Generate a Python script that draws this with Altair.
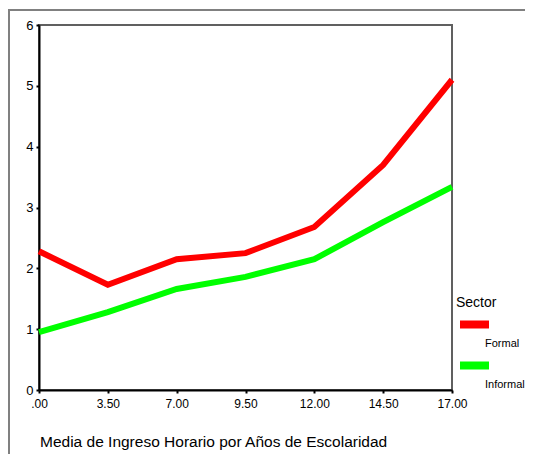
import altair as alt
import pandas as pd

years = [".00", "3.50", "7.00", "9.50", "12.00", "14.50", "17.00"]
formal = [2.28, 1.73, 2.15, 2.25, 2.68, 3.70, 5.10]
informal = [0.95, 1.28, 1.66, 1.86, 2.15, 2.76, 3.34]
sectors = ["Formal", "Informal"]
colors = ["#ff0000", "#00ff00"]
title_text = "Media de Ingreso Horario por Años de Escolaridad"

rows = []
for s, vals in zip(sectors, [formal, informal]):
    for y, v in zip(years, vals):
        rows.append({"Años": y, "Ingreso": v, "Sector": s})
df = pd.DataFrame(rows)

FONT = "Liberation Sans"

lines = alt.Chart(df).mark_line(strokeWidth=6).encode(
    x=alt.X("Años:O", sort=years,
            scale=alt.Scale(type="point", padding=0),
            axis=alt.Axis(title=None, labelAngle=0, labelFontSize=12, labelFont=FONT,
                          labelColor="black", tickSize=3, tickWidth=2, tickColor="black",
                          domainColor="black", domainWidth=2, labelPadding=5)),
    y=alt.Y("Ingreso:Q", scale=alt.Scale(domain=[0, 6], nice=False, zero=True),
            axis=alt.Axis(title=None, values=[0, 1, 2, 3, 4, 5, 6], grid=False,
                          labelFontSize=13, labelFont=FONT, labelColor="black",
                          tickSize=3, tickWidth=2, tickColor="black",
                          domainColor="black", domainWidth=2, labelPadding=3)),
    color=alt.Color("Sector:N", scale=alt.Scale(domain=sectors, range=colors),
                    legend=alt.Legend(title="Sector", orient="none", legendX=417, legendY=271,
                                      titleFontSize=14, titleFont=FONT, titleFontWeight="normal",
                                      titleColor="black", titlePadding=0,
                                      symbolType="M-1.0,0H1.76", symbolStrokeWidth=8,
                                      symbolSize=441, symbolOffset=0,
                                      labelFontSize=11, labelFont=FONT, labelColor="black",
                                      labelExpr="['', datum.label]", labelBaseline="top",
                                      labelOffset=0, rowPadding=0)),
)

frame_left = alt.Chart(df).mark_rule(color="#808080", strokeWidth=2).encode(
    x=alt.value(-30), y=alt.value(-16), y2=alt.value(437))
frame_top = alt.Chart(df).mark_rule(color="#808080", strokeWidth=2).encode(
    x=alt.value(-30), x2=alt.value(500), y=alt.value(-15))

chart = alt.layer(frame_left, frame_top, lines).properties(
    width=413, height=365,
    background="white",
    padding={"left": 31, "top": 17, "right": 73, "bottom": 64},
    autosize=alt.AutoSizeParams(type="none"),
    title=alt.Title(title_text, orient="bottom", anchor="start", fontSize=15.5, font=FONT,
                    fontWeight="normal", color="black", offset=-28, dx=32),
).configure_view(stroke="#606060", strokeWidth=2)

chart.save("out.html", embed_options={"renderer": "svg", "actions": False})
